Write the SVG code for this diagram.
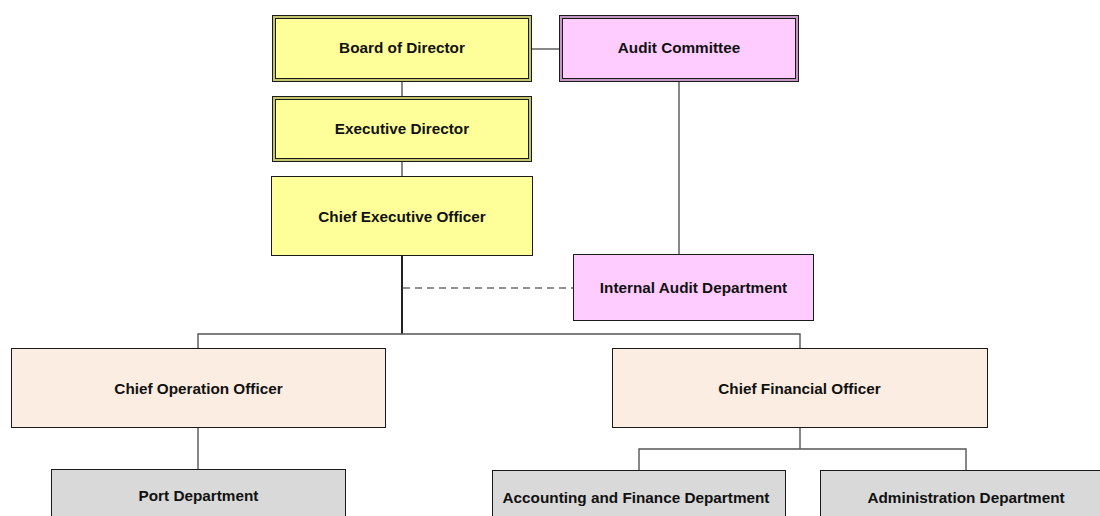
<svg xmlns="http://www.w3.org/2000/svg" width="1100" height="516" viewBox="0 0 1100 516">
<style>
text{font-family:"Liberation Sans",Arial,sans-serif;font-weight:bold;font-size:15.3px;fill:#111;text-anchor:middle}
.b{stroke:#1a1a1a;stroke-width:1}
.y{fill:#ffff99}.yo{fill:#c4c46a}
.p{fill:#ffccff}.po{fill:#c496c4}
.o{fill:#fcede2}.g{fill:#d9d9d9}
.c{stroke:#555;stroke-width:1.4;fill:none}
.k{stroke:#222;stroke-width:2;fill:none}
.d{stroke:#6e6e6e;stroke-width:1.5;stroke-dasharray:7 5;fill:none}
</style>
<rect width="1100" height="516" fill="#fff"/>
<g id="connectors">
<line class="c" x1="532" y1="49" x2="559" y2="49"/>
<line class="c" x1="402" y1="82" x2="402" y2="96"/>
<line class="c" x1="402" y1="162" x2="402" y2="176"/>
<line class="c" x1="679" y1="82" x2="679" y2="254"/>
<line class="d" x1="403" y1="288" x2="573" y2="288"/>
<line class="k" x1="402" y1="256" x2="402" y2="334"/>
<polyline class="c" points="198,348 198,334 800,334 800,348"/>
<line class="c" x1="198" y1="428" x2="198" y2="469"/>
<line class="c" x1="800" y1="428" x2="800" y2="449"/>
<polyline class="c" points="639,470 639,449 966,449 966,470"/>
</g>
<g id="board">
<rect class="b yo" x="272.5" y="15.5" width="259" height="66"/>
<rect class="b y" x="275.5" y="18.5" width="253" height="60"/>
<text x="402" y="53">Board of Director</text>
</g>
<g id="audit-committee">
<rect class="b po" x="559.5" y="15.5" width="239" height="66"/>
<rect class="b p" x="562.5" y="18.5" width="233" height="60"/>
<text x="679" y="53">Audit Committee</text>
</g>
<g id="executive-director">
<rect class="b yo" x="272.5" y="96.5" width="259" height="65"/>
<rect class="b y" x="275.5" y="99.5" width="253" height="59"/>
<text x="402" y="134">Executive Director</text>
</g>
<g id="ceo">
<rect class="b y" x="271.5" y="176.5" width="261" height="79"/>
<text x="402" y="221.5">Chief Executive Officer</text>
</g>
<g id="internal-audit">
<rect class="b p" x="573.5" y="254.5" width="240" height="66"/>
<text x="693.5" y="293.3">Internal Audit Department</text>
</g>
<g id="coo">
<rect class="b o" x="11.5" y="348.5" width="374" height="79"/>
<text x="198.5" y="393.5">Chief Operation Officer</text>
</g>
<g id="cfo">
<rect class="b o" x="612.5" y="348.5" width="375" height="79"/>
<text x="799.5" y="393.5">Chief Financial Officer</text>
</g>
<g id="port">
<rect class="b g" x="51.5" y="469.5" width="294" height="60"/>
<text x="198.5" y="500.5">Port Department</text>
</g>
<g id="accounting">
<rect class="b g" x="492.5" y="470.5" width="293" height="60"/>
<text x="636" y="503">Accounting and Finance Department</text>
</g>
<g id="administration">
<rect class="b g" x="820.5" y="470.5" width="292" height="60"/>
<text x="966" y="503">Administration Department</text>
</g>
</svg>
